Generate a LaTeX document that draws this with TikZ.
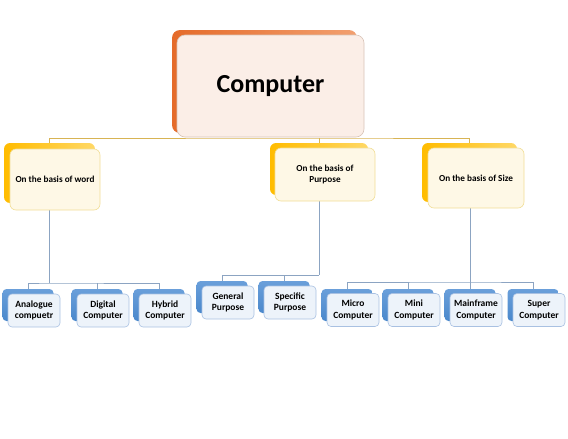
\documentclass[tikz,border=0pt]{standalone}
\usepackage{fontspec}
\setmainfont{Carlito}
\usetikzlibrary{backgrounds}
\definecolor{orA}{HTML}{E56B2A}
\definecolor{orB}{HTML}{F2A070}
\definecolor{peach}{HTML}{FBEEE7}
\definecolor{peachline}{HTML}{D8C4B8}
\definecolor{goA}{HTML}{FFBC00}
\definecolor{goB}{HTML}{FFD866}
\definecolor{cream}{HTML}{FEF8E6}
\definecolor{creamline}{HTML}{F1DE96}
\definecolor{blA}{HTML}{4A88CC}
\definecolor{blB}{HTML}{6A9FDA}
\definecolor{pale}{HTML}{EDF3FA}
\definecolor{paleline}{HTML}{A9C1E2}
\definecolor{goldline}{HTML}{D8B454}
\definecolor{greyline}{HTML}{8CA4C2}
\tikzset{
  topback/.style={rounded corners=8pt, left color=orA, right color=orB, minimum width=185pt, minimum height=103pt, inner sep=0pt},
  topfront/.style={rounded corners=8pt, fill=peach, draw=peachline, line width=0.6pt, minimum width=187pt, minimum height=102pt, inner sep=0pt, font=\fontsize{26}{30}\selectfont\bfseries},
  catback/.style={rounded corners=6pt, left color=goA, right color=goB, inner sep=0pt},
  catfront/.style={rounded corners=6pt, fill=cream, draw=creamline, line width=0.6pt, inner sep=0pt, align=center, font=\fontsize{9.2}{11.5}\selectfont\bfseries},
  leafback/.style={rounded corners=4pt, top color=blB, bottom color=blA, minimum width=51pt, minimum height=32pt, inner sep=0pt},
  leaffront/.style={rounded corners=4pt, fill=pale, draw=paleline, line width=0.6pt, minimum width=52pt, minimum height=33pt, inner sep=0pt, align=center, font=\fontsize{9.5}{11.5}\selectfont\bfseries},
  goldconn/.style={draw=goldline, line width=0.8pt},
  greyconn/.style={draw=greyline, line width=0.8pt}
}
\begin{document}
\begin{tikzpicture}[x=1pt,y=-1pt]
\useasboundingbox (0,0) rectangle (568,439);
% top box
\node[topback] (top) at (264.5,81.5) {};
\node[topfront] (topf) at (270.5,86) {Computer};
% category boxes
\node[catback, minimum width=91pt, minimum height=60pt] (c1) at (49.5,173) {};
\node[catfront, minimum width=90pt, minimum height=61pt] (c1f) at (55,179.5) {On the basis of word};
\node[catback, minimum width=98pt, minimum height=52pt] (c2) at (319,169) {};
\node[catfront, minimum width=100pt, minimum height=53pt] (c2f) at (325,174.5) {On the basis of\\Purpose};
\node[catback, minimum width=95pt, minimum height=59pt] (c3) at (469.5,172.5) {};
\node[catfront, minimum width=96pt, minimum height=60pt] (c3f) at (476,178) {On the basis of Size};
% leaves: word
\node[leafback] (l1) at (28,305) {};
\node[leaffront] (l1f) at (34,310.5) {Analogue\\compuetr};
\node[leafback] (l2) at (97,305) {};
\node[leaffront] (l2f) at (103,310.5) {Digital\\Computer};
\node[leafback] (l3) at (159,305) {};
\node[leaffront] (l3f) at (165,310.5) {Hybrid\\Computer};
% leaves: purpose
\node[leafback] (p1) at (222,297) {};
\node[leaffront] (p1f) at (228,302.5) {General\\Purpose};
\node[leafback] (p2) at (284,297) {};
\node[leaffront] (p2f) at (290,302.5) {Specific\\Purpose};
% leaves: size
\node[leafback] (s1) at (347,305) {};
\node[leaffront] (s1f) at (353,310) {Micro\\Computer};
\node[leafback] (s2) at (408,305) {};
\node[leaffront] (s2f) at (414,310) {Mini\\Computer};
\node[leafback] (s3) at (470,305) {};
\node[leaffront] (s3f) at (476,310) {Mainframe\\Computer};
\node[leafback] (s4) at (533,305) {};
\node[leaffront] (s4f) at (539,310) {Super\\Computer};
% connectors
\coordinate (hub) at (319,138);
\coordinate (h1) at (49.5,283);
\coordinate (h2) at (319,275);
\coordinate (h3) at (470,282);
\begin{scope}[on background layer]
\draw[goldconn] (c1.north) |- (hub) -| (c3.north);
\draw[goldconn] (hub) -- (c2.north);
\draw[greyconn] (c1f.south -| h1) -- (h1);
\draw[greyconn] (l1.north) |- (h1) -| (l3.north);
\draw[greyconn] (l2.north) -- (l2.north |- h1);
\draw[greyconn] (c2f.south -| h2) -- (h2);
\draw[greyconn] (p1.north) |- (h2);
\draw[greyconn] (p2.north) -- (p2.north |- h2);
\draw[greyconn] (c3f.south -| h3) -- (h3);
\draw[greyconn] (s1.north) |- (h3) -| (s4.north);
\draw[greyconn] (s2.north) -- (s2.north |- h3);
\draw[greyconn] (s3.north) -- (s3.north |- h3);
\end{scope}
\end{tikzpicture}
\end{document}
